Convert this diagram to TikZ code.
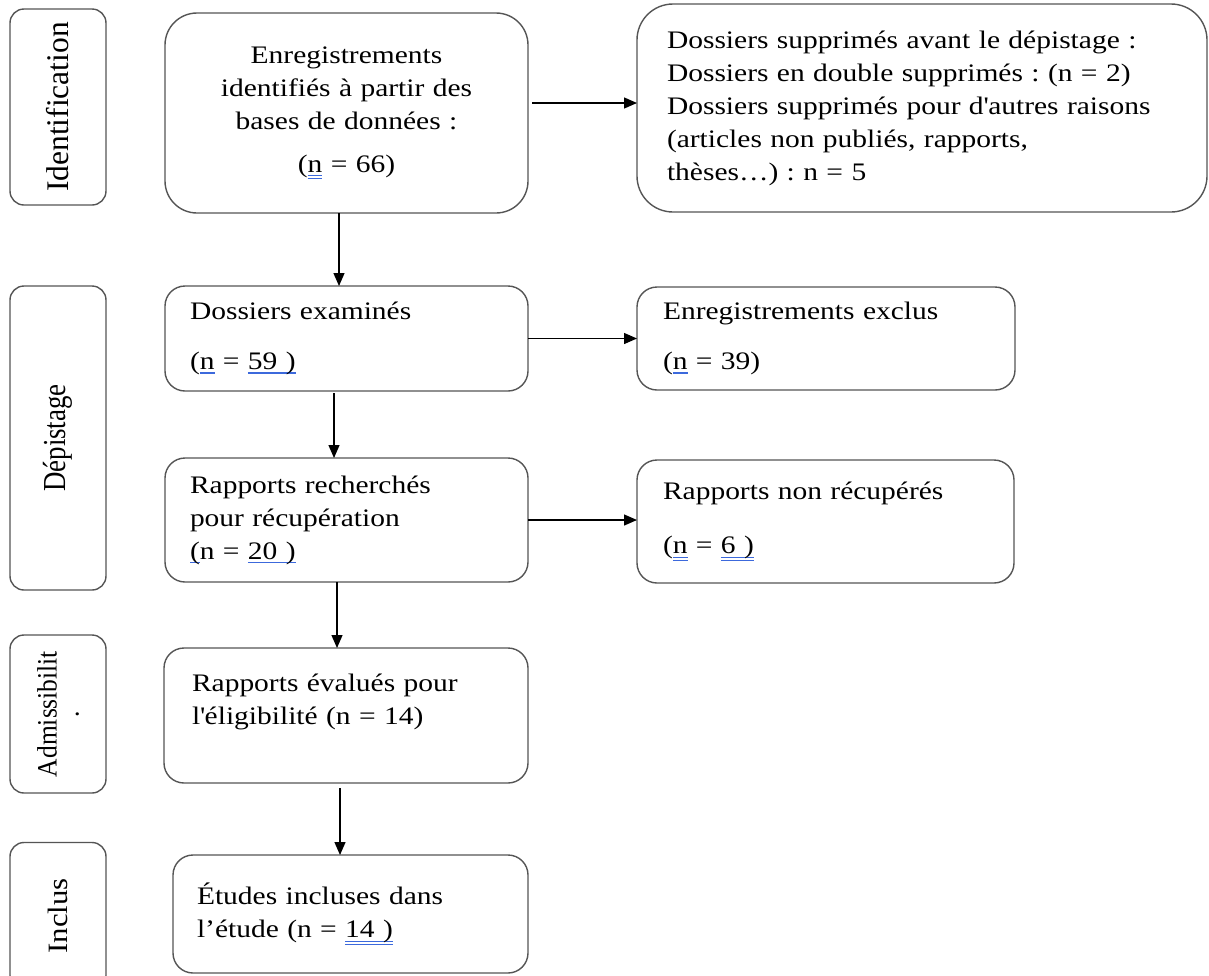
\documentclass[tikz,border=0pt]{standalone}
\usepackage{fontspec}
\setmainfont{Liberation Serif}[FakeStretch=1.17]
\newfontfamily\etiqA{Liberation Serif}
\newfontfamily\etiqB{Liberation Serif}[FakeStretch=0.84]
\newfontfamily\etiqC{Liberation Serif}[FakeStretch=0.91]
\newfontfamily\etiqD{Liberation Serif}[FakeStretch=1.1]
\usepackage{xcolor}
\usetikzlibrary{arrows.meta}
\frenchspacing

\definecolor{trait}{HTML}{555555}
\definecolor{correcteur}{RGB}{60,105,220}
\newcommand{\ligne}[1]{\leavevmode\setbox0\hbox{#1}\rlap{\color{correcteur}\rule[-4pt]{\wd0}{1.1pt}}\box0\relax}
\newcommand{\dligne}[1]{\leavevmode\setbox0\hbox{#1}\rlap{\color{correcteur}\rule[-4pt]{\wd0}{1.1pt}}\rlap{\color{correcteur}\rule[-7pt]{\wd0}{1.1pt}}\box0\relax}

\begin{document}
\begin{tikzpicture}[x=1pt, y=-1pt,
        boite/.style={draw=trait, line width=1.4pt, rounded corners=20pt, outer sep=0pt, inner xsep=25pt, align=left, font=\fontsize{25.2}{33}\selectfont},
        etiquette/.style={draw=trait, line width=1.4pt, rounded corners=14pt, outer sep=0pt, rotate=90, inner sep=0pt, align=center},
        fleche/.style={black, line width=1.3pt, -{Triangle[length=13pt, width=11pt]}}]
        \path[use as bounding box, fill=white] (0, 0) rectangle (1209, 975);

        % phases
        \node (id) at (58, 107)[etiquette, minimum width=196pt, minimum height=96pt, font=\etiqA\fontsize{31.5}{32}\selectfont] {Identification};
        \node (depi) at (58, 438)[etiquette, minimum width=304pt, minimum height=96pt, font=\etiqB\fontsize{32}{32}\selectfont] {Dépistage};
        \node (admi) at (58, 714)[etiquette, minimum width=158pt, minimum height=96pt, font=\etiqC\fontsize{28}{22}\selectfont] {Admissibilit\\.};
        \node (incl) at (58, 916)[etiquette, minimum width=147pt, minimum height=96pt, font=\etiqD\fontsize{28}{28}\selectfont] {Inclus};

        % colonne principale
        \node (enreg) at (346.5, 113)[boite, rounded corners=32pt, align=center, inner xsep=10pt, text width=343pt, minimum height=200pt] {Enregistrements\\ identifiés à partir des\\ bases de données :\\[10pt] (\dligne{n} = 66)};
        \node (examines) at (346.5, 338.5)[boite, text width=313pt, minimum height=105pt] {Dossiers examinés\\[17pt] (\ligne{n} = \ligne{59 )}};
        \node (recherches) at (346.5, 520)[boite, text width=313pt, minimum height=124pt] {Rapports recherchés\\ pour récupération\\ \ligne{(}n = \ligne{20 )}};
        \node (evalues) at (346, 715.5)[boite, inner xsep=28pt, text width=308pt, minimum height=135pt] {Rapports évalués pour\\ l\textquotesingle éligibilité (n = 14)\\ \mbox{}};
        \node (inclus) at (350.5, 914)[boite, inner xsep=24pt, text width=307pt, minimum height=118pt] {Études incluses dans\\ l’étude (n = \dligne{14 )}};

        % exclusions
        \node (supprimes) at (922, 108)[boite, rounded corners=36pt, inner xsep=30pt, text width=510pt, minimum height=208pt] {Dossiers supprimés avant le dépistage :\\ Dossiers en double supprimés : (n = 2)\\ Dossiers supprimés pour d\textquotesingle autres raisons\\ (articles non publiés, rapports,\\ thèses…) : n = 5};
        \node (exclus) at (826, 338.5)[boite, inner xsep=26pt, text width=326pt, minimum height=103pt] {Enregistrements exclus\\[17pt] (\ligne{n} = 39)};
        \node (nonrecup) at (825.5, 521.5)[boite, inner xsep=26pt, text width=325pt, minimum height=123pt] {Rapports non récupérés\\[21pt] (\dligne{n} = \dligne{6 )}};

        \draw[fleche] ([xshift=-7.5pt]enreg.south) -- ([xshift=-7.5pt]enreg.south |- examines.north);
        \draw[fleche] ([xshift=-12.5pt, yshift=-2pt]examines.south) -- ([xshift=-12.5pt]examines.south |- recherches.north);
        \draw[fleche] ([xshift=-9.5pt]recherches.south) -- ([xshift=-9.5pt]recherches.south |- evalues.north);
        \draw[fleche] ([xshift=-6pt, yshift=-5pt]evalues.south) -- ([xshift=-6pt]evalues.south |- inclus.north);

        \draw[fleche] ([xshift=4pt, yshift=10pt]enreg.east) -- ([yshift=10pt]enreg.east -| supprimes.west);
        \draw[fleche] (examines.east) -- (examines.east -| exclus.west);
        \draw[fleche] (recherches.east) -- (recherches.east -| nonrecup.west);
    \end{tikzpicture}
\end{document}
